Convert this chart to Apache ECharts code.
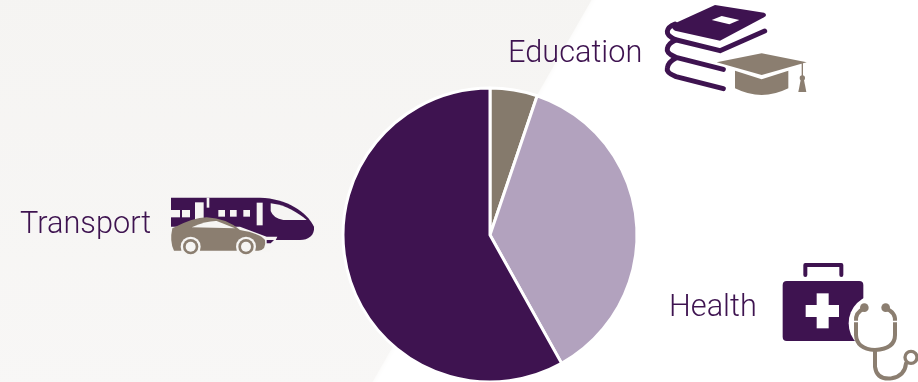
<!DOCTYPE html>
<html>
<head>
<meta charset="utf-8">
<style>html,body{margin:0;padding:0;background:#fff}#chart{width:918px;height:382px}</style>
<script src="https://cdn.jsdelivr.net/npm/echarts@6/dist/echarts.min.js"></script>
</head>
<body>
<div id="chart"></div>
<script>
// Spending shares, clockwise from twelve o'clock
const categories = ['Education', 'Health', 'Transport'];
const shares = [5.2, 36.7, 58.1];
const sliceColors = ['#857a6c', '#b2a2be', '#3e1350'];

const purple = '#3e1350';
const tan = '#8b7e70';
const panel = '#f6f5f3';
const white = '#ffffff';

const labelAt = { Education: [508, 53.5], Transport: [20, 225], Health: [669, 308] };

// Draws shapes in a 3x local space, anchored at a page position
function icon(x, y, children) {
  return { type: 'group', x, y, scaleX: 1 / 3, scaleY: 1 / 3, silent: true, children };
}
const fillPath = (d, fill) => ({ type: 'path', shape: { pathData: d }, style: { fill } });
const linePath = (d, stroke, lineWidth) => ({ type: 'path', shape: { pathData: d }, style: { fill: 'none', stroke, lineWidth, lineCap: 'round', lineJoin: 'round' } });
const circle = (cx, cy, r, fill) => ({ type: 'circle', shape: { cx, cy, r }, style: { fill } });
const rect = (x, y, width, height, fill, r) => ({ type: 'rect', shape: { x, y, width, height, r: r || 0 }, style: { fill } });

const booksIcon = icon(640, 0, [
  fillPath('M225 15 L372 38 Q384 44 372 52 L240 122 L105 92 Q88 84 105 70 Z', purple),
  fillPath('M215 60 L245 48 L298 60 L268 73 Z', white),
  linePath('M374 93 L240 152 L110 120 Q80 108 82 94 Q84 80 105 72', purple, 15),
  linePath('M250 208 L108 172 Q78 160 82 146 Q84 130 108 120', purple, 15),
  linePath('M250 266 L108 230 Q78 218 82 204 Q84 186 108 174', purple, 15),
  fillPath('M365 160 L500 187 L365 225 L230 187 Z', tan),
  fillPath('M285 212 L365 238 L445 212 L445 265 Q365 305 285 265 Z', tan),
  linePath('M487 190 L487 232', tan, 4),
  circle(487, 234, 8, tan),
  fillPath('M482 240 L492 240 L499 276 L475 276 Z', tan)
]);

const transportIcon = icon(160, 185, [
  fillPath('M33 38 L300 38 C380 40 440 80 462 125 C465 150 445 165 420 165 L33 165 Z', purple),
  rect(140, 38, 8, 30, panel),
  rect(105, 52, 26, 60, panel),
  rect(33, 75, 27, 22, panel),
  rect(66, 75, 24, 22, panel),
  rect(175, 75, 20, 20, panel),
  rect(210, 75, 20, 20, panel),
  rect(250, 75, 20, 20, panel),
  rect(290, 53, 18, 68, panel),
  fillPath('M332 55 C380 60 415 85 440 105 L370 105 Q340 100 332 78 Z', panel),
  fillPath('M33 125 L33 200 L330 200 L352 155 L320 155 L240 125 Z', panel),
  fillPath('M320 165 L342 165 L332 175 L320 175 Z', purple),
  fillPath('M37 130 Q100 97 140 97 Q200 100 240 135 Q300 145 315 165 Q320 195 295 197 L42 197 Q28 170 37 130 Z', tan),
  fillPath('M95 127 Q140 107 170 108 L225 130 Z', panel),
  circle(92, 185, 30, panel), circle(92, 185, 23, tan), circle(92, 185, 15, panel),
  circle(258, 185, 30, panel), circle(258, 185, 23, tan), circle(258, 185, 15, panel)
]);

const healthIcon = icon(770, 255, [
  linePath('M106 60 L106 30 L214 30 L214 60', purple, 12),
  rect(38, 78, 242, 180, purple, 12),
  rect(140, 115, 36, 105, white),
  rect(107, 150, 100, 36, white),
  circle(322, 205, 86, white),
  linePath('M283 160 Q255 172 258 200 L258 240 Q260 282 315 285 Q375 282 375 240 L375 200 Q378 172 347 160', tan, 12),
  circle(283, 158, 13, tan),
  circle(347, 158, 13, tan),
  rect(250, 197, 133, 5, white),
  linePath('M315 285 L315 335 Q320 375 365 370 Q405 362 408 325', tan, 12),
  { type: 'circle', shape: { cx: 423, cy: 307, r: 18 }, style: { fill: 'none', stroke: tan, lineWidth: 10 } }
]);

const chart = echarts.init(document.getElementById('chart'), null, { renderer: 'canvas' });
chart.setOption({
  animation: false,
  backgroundColor: white,
  graphic: [
    {
      // Pale diagonal backdrop with a soft right edge, lighter towards the foot
      type: 'polygon', z: -10, silent: true,
      shape: { points: [[-20, -20], [603, -20], [361, 402], [-20, 402]] },
      style: {
        fill: new echarts.graphic.LinearGradient(0, 0, 0, 1, [
          { offset: 0, color: '#f5f4f2' },
          { offset: 1, color: '#f8f7f6' }
        ]),
        shadowBlur: 5,
        shadowColor: 'rgba(246,245,243,0.8)'
      }
    },
    ...categories.map((name) => ({
      type: 'text', x: labelAt[name][0], y: labelAt[name][1], scaleX: 0.96, silent: true,
      style: { text: name, fill: purple, font: '300 32px Roboto', textVerticalAlign: 'middle' }
    }))
  ],
  series: [
    {
      type: 'custom',
      coordinateSystem: 'none',
      silent: true,
      data: [0],
      renderItem: () => ({ type: 'group', children: [booksIcon, transportIcon, healthIcon] })
    },
    {
      type: 'pie',
      center: [490, 235],
      radius: [0, 147],
      startAngle: 90,
      clockwise: true,
      label: { show: false },
      labelLine: { show: false },
      emphasis: { disabled: true },
      itemStyle: { borderColor: white, borderWidth: 3 },
      data: categories.map((name, i) => ({ name, value: shares[i], itemStyle: { color: sliceColors[i] } }))
    }
  ]
});
</script>
</body>
</html>
